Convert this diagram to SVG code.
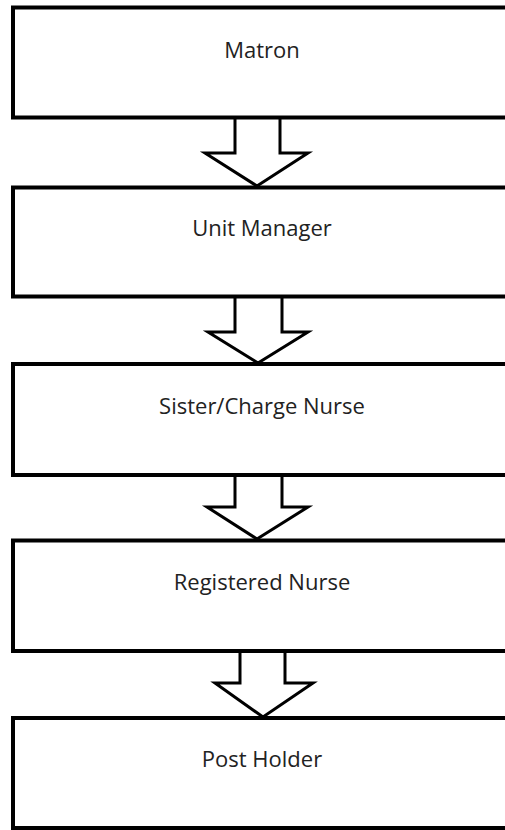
<svg xmlns="http://www.w3.org/2000/svg" width="505" height="830" viewBox="0 0 505 830">
<style>
.box{fill:#fff;stroke:#000;stroke-width:4}
.lbl{font-family:"Open Sans","Noto Sans",sans-serif;font-size:22px;fill:#222;text-anchor:middle}
.arr{fill:#fff;stroke:#000;stroke-width:3;stroke-linejoin:miter}
</style>
<rect width="505" height="830" fill="#fff"/>
<g id="connectors">
<path class="arr" d="M235,117.5 V153 H205 L257,186 L308,153 H280 V117.5"/>
<path class="arr" d="M235,296.5 V332 H208 L258,363 L308,332 H282 V296.5"/>
<path class="arr" d="M235,475 V507 H207 L257,539 L308,507 H282 V475"/>
<path class="arr" d="M240,651 V683 H215 L263,717 L313,683 H285 V651"/>
</g>
<g id="matron"><rect class="box" x="13" y="7.5" width="500" height="110"/><text class="lbl" x="262" y="58">Matron</text></g>
<g id="unit-manager"><rect class="box" x="13" y="187.5" width="500" height="109"/><text class="lbl" x="262" y="236">Unit Manager</text></g>
<g id="sister-charge-nurse"><rect class="box" x="13" y="364" width="500" height="111"/><text class="lbl" x="262" y="414">Sister/Charge Nurse</text></g>
<g id="registered-nurse"><rect class="box" x="13" y="540.5" width="500" height="110.5"/><text class="lbl" x="262" y="590">Registered Nurse</text></g>
<g id="post-holder"><rect class="box" x="13" y="718" width="500" height="110"/><text class="lbl" x="262" y="767">Post Holder</text></g>
</svg>
